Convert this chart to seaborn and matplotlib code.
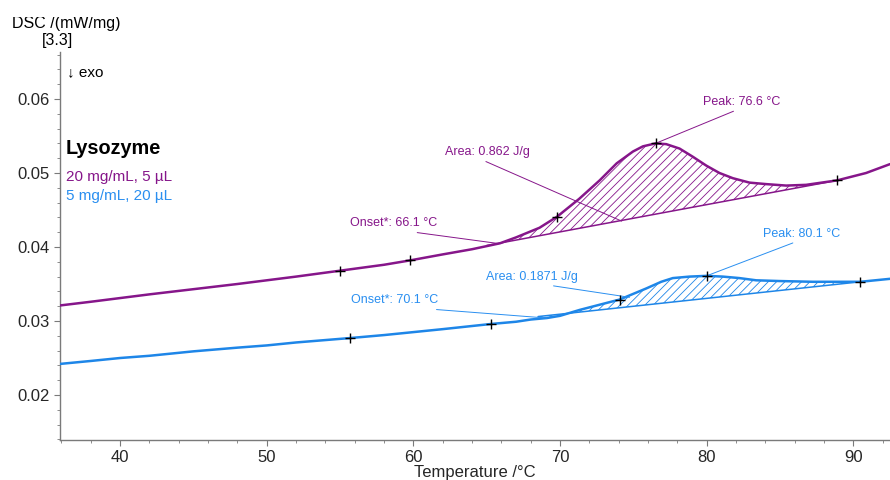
import numpy as np
import pandas as pd
import matplotlib
matplotlib.use("Agg")
import matplotlib.pyplot as plt
import matplotlib.transforms as mtransforms
import seaborn as sns

# ---------------- data ----------------
temp_a = [35.9, 38, 40, 42, 45, 48, 50, 52, 55, 58, 59.8, 62, 64, 65.9, 67, 68.6,
          69.8, 71.3, 72.7, 73.86, 74.97, 75.65, 76.51, 77.24, 78.15, 79.05, 79.97,
          80.87, 81.78, 82.92, 84.05, 85.42, 86.78, 88.89, 90.87, 92.5]
dsc_a = [0.0321, 0.0326, 0.0331, 0.0336, 0.0343, 0.0350, 0.0355, 0.0360, 0.0368,
         0.0376, 0.0382, 0.0390, 0.0397, 0.0405, 0.0413, 0.0426, 0.0441, 0.0465,
         0.0490, 0.0513, 0.0529, 0.0536, 0.0540, 0.0539, 0.0533, 0.0522, 0.0510,
         0.0500, 0.0493, 0.0487, 0.0485, 0.0483, 0.0484, 0.0490, 0.0500, 0.0512]

temp_b = [35.9, 38, 40, 42, 45, 48, 50, 52, 55.7, 58, 60, 62, 65.3, 67, 68, 69.1,
          70, 71.34, 72.7, 74.06, 75.88, 76.9, 77.69, 78.83, 79.99, 81.1, 82.23,
          83.37, 84.96, 87.23, 90.48, 92.5]
dsc_b = [0.0242, 0.0246, 0.0250, 0.0253, 0.0259, 0.0264, 0.0267, 0.0271, 0.0277,
         0.0281, 0.0285, 0.0289, 0.0296, 0.0299, 0.0302, 0.0304, 0.0307, 0.0315,
         0.0322, 0.0329, 0.0344, 0.0353, 0.0358, 0.0360, 0.0361, 0.0360, 0.0358,
         0.0355, 0.0354, 0.0353, 0.0353, 0.0357]

base_a_t = [65.0, 88.89]
base_a_v = [0.0402, 0.0490]
base_b_t = [68.5, 90.48]
base_b_v = [0.0306, 0.0353]

mark_a_t = [55.0, 59.8, 69.8, 76.51, 88.89]
mark_a_v = [0.0368, 0.0382, 0.0441, 0.0540, 0.0490]
mark_b_t = [55.7, 65.3, 74.06, 79.99, 90.48]
mark_b_v = [0.0277, 0.0296, 0.0329, 0.0361, 0.0353]

# annotations: label, text centre (T, V), relpos, target (T, V)
ann_a = [("Peak: 76.6 °C", (82.37, 0.0596), (0.5, 0.0), (76.51, 0.0540)),
         ("Area: 0.862 J/g", (65.07, 0.0528), (0.39, 0.0), (74.2, 0.0435)),
         ("Onset*: 66.1 °C", (58.66, 0.0432), (0.49, 0.0), (65.68, 0.0405))]
ann_b = [("Peak: 80.1 °C", (86.46, 0.0418), (0.5, 0.0), (79.99, 0.0361)),
         ("Area: 0.1871 J/g", (68.07, 0.0360), (0.5, 0.0), (74.74, 0.0332)),
         ("Onset*: 70.1 °C", (58.73, 0.0328), (0.49, 0.0), (69.09, 0.0304))]

title = "Lysozyme"
label_a = "20 mg/mL, 5 µL"
label_b = "5 mg/mL, 20 µL"
x_ticks = [40, 50, 60, 70, 80, 90]
y_ticks = [0.02, 0.03, 0.04, 0.05, 0.06]

purple = "#86168a"
blue = "#1e86e8"
blue_txt = "#2a8ff0"

# ---------------- style ----------------
sns.set_style("ticks")
plt.rcParams["font.family"] = ["Liberation Sans", "DejaVu Sans"]
plt.rcParams["hatch.linewidth"] = 0.6
spine_col = "#7a7a7a"

fig = plt.figure(figsize=(8.9, 4.8), dpi=100)
ax = fig.add_axes([60 / 890, 40 / 480, 830 / 890, 388 / 480])

df_a = pd.DataFrame({"T": temp_a, "DSC": dsc_a})
df_b = pd.DataFrame({"T": temp_b, "DSC": dsc_b})

# hatched peak areas
for df, bt, bv, col in [(df_a, base_a_t, base_a_v, purple), (df_b, base_b_t, base_b_v, blue)]:
    sel = df[(df["T"] > bt[0]) & (df["T"] < bt[1])]
    tt = np.concatenate([[bt[0]], sel["T"].values, [bt[1]]])
    curve = np.interp(tt, df["T"].values, df["DSC"].values)
    base = np.interp(tt, bt, bv)
    ax.fill_between(tt, base, curve, facecolor="none", edgecolor=col,
                    hatch="////", linewidth=0, zorder=1)
    sns.lineplot(x=bt, y=bv, ax=ax, color=col, linewidth=1.1, zorder=2)

sns.lineplot(data=df_a, x="T", y="DSC", ax=ax, color=purple, linewidth=1.8,
             sort=False, zorder=3)
sns.lineplot(data=df_b, x="T", y="DSC", ax=ax, color=blue, linewidth=1.8,
             sort=False, zorder=3)

sns.scatterplot(x=mark_a_t + mark_b_t, y=mark_a_v + mark_b_v, ax=ax, marker="+",
                color="black", s=45, linewidth=1.0, zorder=5)

for anns, col in [(ann_a, purple), (ann_b, blue_txt)]:
    for lab, xyt, rel, xy in anns:
        ax.annotate(lab, xy=xy, xytext=xyt, ha="center", va="center",
                    fontsize=9, color=col,
                    arrowprops=dict(arrowstyle="-", color=col, lw=0.7,
                                    relpos=rel, shrinkA=0, shrinkB=0),
                    zorder=4)

ax.set_xlim(35.9, 92.5)
ax.set_ylim(0.01392, 0.06635)
ax.set_xticks(x_ticks)
ax.set_yticks(y_ticks)
ax.set_yticklabels([f"{v:.2f}" for v in y_ticks])
ax.set_xticks(np.arange(36, 93, 2), minor=True)
ax.set_yticks(np.arange(0.014, 0.0665, 0.002), minor=True)
ax.tick_params(axis="both", which="major", labelsize=12, color=spine_col,
               length=4, width=0.8)
ax.tick_params(axis="both", which="minor", color=spine_col, length=2.5, width=0.6)
sns.despine(ax=ax)
for s in ["left", "bottom"]:
    ax.spines[s].set_color(spine_col)
    ax.spines[s].set_linewidth(1.0)

ax.set_xlabel("Temperature /°C", fontsize=12, labelpad=0)
ax.set_ylabel("")

# y label at top-left (top edge clipped like the reference)
t = fig.text(66 / 890, 1 - 28 / 480, "DSC /(mW/mg)", ha="center", va="baseline",
             fontsize=11.5, color="black")
t.set_clip_box(mtransforms.TransformedBbox(
    mtransforms.Bbox.from_extents(0, 0, 1, 1 - 16.5 / 480), fig.transFigure))
t.set_clip_on(True)
fig.text(57.5 / 890, 1 - 45 / 480, "[3.3]", ha="center", va="baseline",
         fontsize=11.5, color="black")

ax.text(0.008, 0.949, "↓ exo", transform=ax.transAxes, ha="left", va="center",
        fontsize=11, color="black")
ax.text(0.007, 0.751, title, transform=ax.transAxes, ha="left", va="center",
        fontsize=14.3, fontweight="bold", color="black")
ax.text(0.007, 0.679, label_a, transform=ax.transAxes, ha="left", va="center",
        fontsize=11, color=purple)
ax.text(0.007, 0.628, label_b, transform=ax.transAxes, ha="left", va="center",
        fontsize=11, color=blue_txt)

fig.savefig("out.png", dpi=100)
